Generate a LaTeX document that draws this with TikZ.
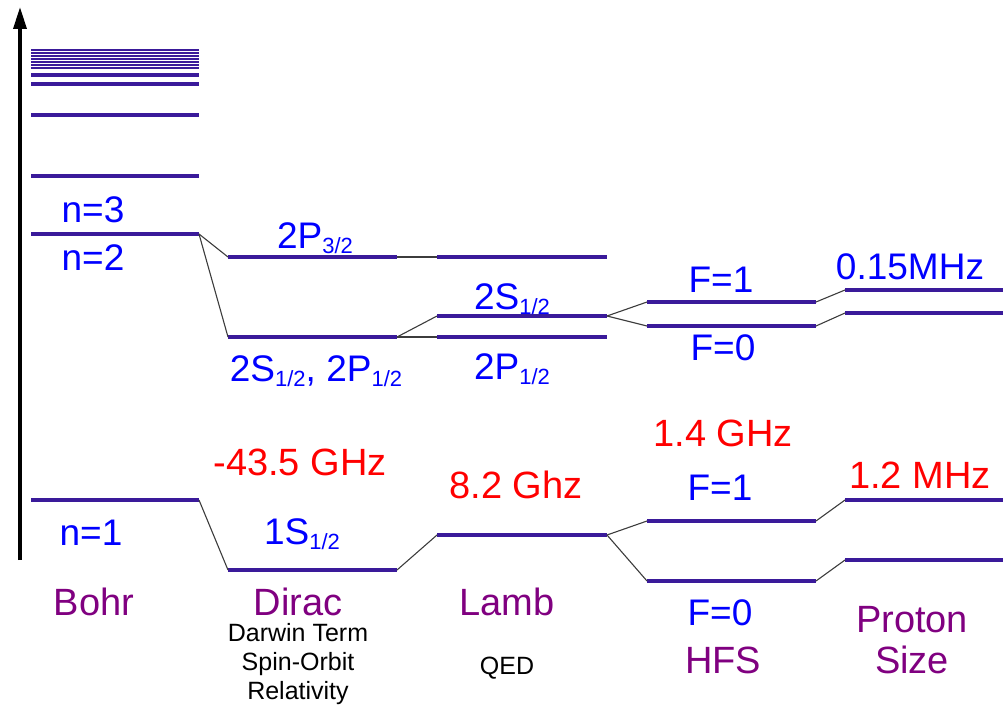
\documentclass[tikz,border=0pt]{standalone}
\usepackage{fontspec}
\setmainfont{Liberation Sans}
\usetikzlibrary{arrows.meta}
\definecolor{lev}{RGB}{58,26,154}
\definecolor{lblue}{RGB}{0,0,255}
\definecolor{lred}{RGB}{255,0,0}
\definecolor{lpurp}{RGB}{128,0,128}
\definecolor{connc}{RGB}{60,60,60}
\newcommand\lsub[1]{\raisebox{-0.14em}{\fontsize{22}{26}\selectfont #1}}
\begin{document}
\begin{tikzpicture}[x=1pt,y=-1pt,
  lvl/.style={draw=lev,line width=3.5pt},
  thinlvl/.style={draw=lev,line width=2.6pt},
  cline/.style={draw=connc,line width=1.1pt},
  blab/.style={text=lblue,inner sep=0pt,font=\fontsize{37}{42}\selectfont},
  rlab/.style={text=lred,inner sep=0pt,font=\fontsize{38}{44}\selectfont},
  plab/.style={text=lpurp,inner sep=0pt,font=\fontsize{38}{44}\selectfont},
  klab/.style={text=black,inner sep=0pt,font=\fontsize{25}{30}\selectfont}]
\useasboundingbox (0,0) rectangle (1003,706);
% axis
\coordinate (axb) at (20,560);
\coordinate (axt) at (20,7);
\draw[line width=3.5pt,-{Triangle[length=22pt,width=13pt]}] (axb) -- (axt);
% Bohr high levels
\foreach \yy in {50,53,56,59,62,65,68}{
  \draw[thinlvl] (31,\yy) -- (199,\yy);
}
\foreach \yy in {75,84,115,176}{
  \draw[lvl] (31,\yy) -- (199,\yy);
}
% Bohr n=2 and n=1
\coordinate (b2l) at (31,234); \coordinate (b2r) at (199,234);
\coordinate (b1l) at (31,500); \coordinate (b1r) at (199,500);
\draw[lvl] (b2l) -- (b2r);
\draw[lvl] (b1l) -- (b1r);
% Dirac
\coordinate (d3l) at (228,257); \coordinate (d3r) at (397,257);
\coordinate (d1l) at (228,337); \coordinate (d1r) at (397,337);
\coordinate (dgl) at (228,570); \coordinate (dgr) at (397,570);
\draw[lvl] (d3l) -- (d3r);
\draw[lvl] (d1l) -- (d1r);
\draw[lvl] (dgl) -- (dgr);
% Lamb
\coordinate (l3l) at (437,257); \coordinate (l3r) at (607,257);
\coordinate (lsl) at (437,316); \coordinate (lsr) at (607,316);
\coordinate (lpl) at (437,337); \coordinate (lpr) at (607,337);
\coordinate (lgl) at (437,535); \coordinate (lgr) at (607,535);
\draw[lvl] (l3l) -- (l3r);
\draw[lvl] (lsl) -- (lsr);
\draw[lvl] (lpl) -- (lpr);
\draw[lvl] (lgl) -- (lgr);
% HFS
\coordinate (h1l) at (647,302); \coordinate (h1r) at (816,302);
\coordinate (h0l) at (647,326); \coordinate (h0r) at (816,326);
\coordinate (g1l) at (647,521); \coordinate (g1r) at (816,521);
\coordinate (g0l) at (647,581); \coordinate (g0r) at (816,581);
\draw[lvl] (h1l) -- (h1r);
\draw[lvl] (h0l) -- (h0r);
\draw[lvl] (g1l) -- (g1r);
\draw[lvl] (g0l) -- (g0r);
% Proton size
\coordinate (p1l) at (845,290); \coordinate (p1r) at (1003,290);
\coordinate (p0l) at (845,313); \coordinate (p0r) at (1003,313);
\coordinate (q1l) at (845,500); \coordinate (q1r) at (1003,500);
\coordinate (q0l) at (845,560); \coordinate (q0r) at (1003,560);
\draw[lvl] (p1l) -- (p1r);
\draw[lvl] (p0l) -- (p0r);
\draw[lvl] (q1l) -- (q1r);
\draw[lvl] (q0l) -- (q0r);
% connectors
\draw[cline] (b2r) -- (d3l);
\draw[cline] (b2r) -- (d1l);
\draw[cline] (d3r) -- (l3l);
\draw[cline] (d1r) -- (lsl);
\draw[cline] (d1r) -- (lpl);
\draw[cline] (lsr) -- (h1l);
\draw[cline] (lsr) -- (h0l);
\draw[cline] (h1r) -- (p1l);
\draw[cline] (h0r) -- (p0l);
\draw[cline] (b1r) -- (dgl);
\draw[cline] (dgr) -- (lgl);
\draw[cline] (lgr) -- (g1l);
\draw[cline] (lgr) -- (g0l);
\draw[cline] (g1r) -- (q1l);
\draw[cline] (g0r) -- (q0l);
% blue labels
\node[blab] (tn3) at (93,210) {n=3};
\node[blab] (tn2) at (93,258) {n=2};
\node[blab] (tn1) at (91,533) {n=1};
\node[blab] (t2p3) at (315,238) {2P\lsub{3/2}};
\node[blab] (t2sp) at (316,371) {2S\lsub{1/2}, 2P\lsub{1/2}};
\node[blab] (t1s) at (302,534) {1S\lsub{1/2}};
\node[blab] (tl2s) at (512,299) {2S\lsub{1/2}};
\node[blab] (tl2p) at (512,369) {2P\lsub{1/2}};
\node[blab] (tf1a) at (721,280) {F=1};
\node[blab] (tf0a) at (723,348) {F=0};
\node[blab] (t015) at (910,267) {0.15MHz};
\node[blab] (tf1b) at (720,488) {F=1};
\node[blab] (tf0b) at (720,613) {F=0};
% red labels
\node[rlab] (t435) at (300,462) {-43.5 GHz};
\node[rlab] (t82) at (516,485) {8.2 Ghz};
\node[rlab] (t14) at (723,433) {1.4 GHz};
\node[rlab] (t12) at (920,475) {1.2 MHz};
% purple labels
\node[plab] (tbohr) at (94,602) {Bohr};
\node[plab] (tdirac) at (298,602) {Dirac};
\node[plab] (tlamb) at (507,602) {Lamb};
\node[plab] (thfs) at (723,660) {HFS};
\node[plab] (tproton) at (912,620) {Proton};
\node[plab] (tsize) at (912,660) {Size};
% black labels
\node[klab] (tdarwin) at (298,633) {Darwin Term};
\node[klab] (tspin) at (298,664) {Spin-Orbit};
\node[klab] (trel) at (298,693) {Relativity};
\node[klab] (tqed) at (507,668) {QED};
\end{tikzpicture}
\end{document}
